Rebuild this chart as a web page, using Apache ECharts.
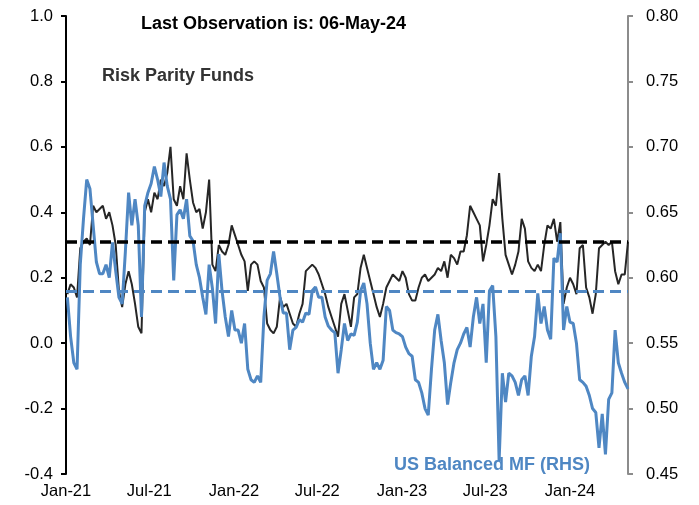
<!DOCTYPE html>
<html>
<head>
<meta charset="utf-8">
<script src="https://cdn.jsdelivr.net/npm/echarts@6/dist/echarts.min.js"></script>
<style>
  html, body { margin: 0; padding: 0; background: #fff; }
  #chart { width: 699px; height: 505px; }
</style>
</head>
<body>
<div id="chart"></div>
<script>
// weekly observations, first one on 4-Jan-21, last one on 6-May-24
var firstWeek = '2021-01-04';

var riskParity = [
    0.15, 0.18, 0.17, 0.14, 0.29, 0.31, 0.32, 0.30, 0.42, 0.40,
    0.41, 0.42, 0.38, 0.40, 0.36, 0.30, 0.16, 0.11, 0.18, 0.22,
    0.18, 0.12, 0.05, 0.03, 0.40, 0.44, 0.40, 0.46, 0.44, 0.50,
    0.48, 0.52, 0.60, 0.44, 0.42, 0.48, 0.44, 0.58, 0.50, 0.43,
    0.40, 0.41, 0.35, 0.40, 0.50, 0.24, 0.22, 0.30, 0.28, 0.27,
    0.30, 0.36, 0.33, 0.30, 0.27, 0.25, 0.16, 0.24, 0.25, 0.24,
    0.19, 0.17, 0.06, 0.04, 0.03, 0.05, 0.14, 0.11, 0.12, 0.09,
    0.06, 0.05, 0.09, 0.12, 0.22, 0.23, 0.24, 0.23, 0.21, 0.18,
    0.15, 0.11, 0.08, 0.05, 0.02, 0.12, 0.15, 0.10, 0.05, 0.14,
    0.15, 0.23, 0.27, 0.23, 0.19, 0.15, 0.11, 0.08, 0.12, 0.17,
    0.19, 0.21, 0.20, 0.19, 0.22, 0.20, 0.15, 0.13, 0.13, 0.17,
    0.20, 0.21, 0.19, 0.20, 0.21, 0.23, 0.22, 0.25, 0.20, 0.27,
    0.26, 0.24, 0.28, 0.28, 0.33, 0.42, 0.40, 0.38, 0.36, 0.25,
    0.30, 0.36, 0.44, 0.42, 0.52, 0.38, 0.27, 0.24, 0.21, 0.24,
    0.28, 0.38, 0.35, 0.25, 0.23, 0.22, 0.24, 0.22, 0.30, 0.36,
    0.35, 0.38, 0.31, 0.37, 0.12, 0.17, 0.20, 0.18, 0.15, 0.29,
    0.30, 0.17, 0.14, 0.09, 0.15, 0.29, 0.30, 0.31, 0.30, 0.31,
    0.22, 0.18, 0.21, 0.21, 0.31
];

var usBalanced = [
    0.585, 0.555, 0.535, 0.530, 0.610, 0.645, 0.675, 0.668, 0.640, 0.612,
    0.603, 0.603, 0.610, 0.600, 0.627, 0.605, 0.585, 0.580, 0.620, 0.665,
    0.640, 0.660, 0.640, 0.570, 0.655, 0.665, 0.672, 0.685, 0.675, 0.662,
    0.688, 0.670, 0.660, 0.598, 0.648, 0.652, 0.645, 0.660, 0.632, 0.628,
    0.610, 0.600, 0.585, 0.572, 0.610, 0.592, 0.565, 0.618, 0.590, 0.570,
    0.555, 0.575, 0.560, 0.560, 0.550, 0.565, 0.530, 0.522, 0.520, 0.525,
    0.520, 0.570, 0.598, 0.603, 0.620, 0.603, 0.585, 0.573, 0.573, 0.545,
    0.560, 0.562, 0.568, 0.566, 0.573, 0.572, 0.590, 0.593, 0.585, 0.585,
    0.570, 0.563, 0.560, 0.558, 0.527, 0.545, 0.565, 0.552, 0.557, 0.556,
    0.566, 0.590, 0.596, 0.580, 0.550, 0.530, 0.535, 0.530, 0.537, 0.578,
    0.575, 0.560, 0.558, 0.557, 0.555, 0.547, 0.542, 0.540, 0.522, 0.520,
    0.512, 0.500, 0.495, 0.530, 0.560, 0.572, 0.552, 0.535, 0.503, 0.520,
    0.535, 0.545, 0.550, 0.557, 0.562, 0.547, 0.570, 0.585, 0.565, 0.580,
    0.535, 0.590, 0.594, 0.555, 0.460, 0.527, 0.505, 0.527, 0.525, 0.520,
    0.510, 0.522, 0.525, 0.510, 0.540, 0.555, 0.588, 0.565, 0.578, 0.560,
    0.553, 0.615, 0.612, 0.634, 0.560, 0.578, 0.566, 0.565, 0.550, 0.522,
    0.520, 0.517, 0.510, 0.500, 0.497, 0.470, 0.496, 0.465, 0.507, 0.512,
    0.560, 0.535, 0.527, 0.520, 0.515
];

// long-run averages (dashed lines)
var riskParityAvg = 0.311;
var usBalancedAvg = 0.589;

var tickDates = ['2021-01-01', '2021-07-01', '2022-01-01', '2022-07-01', '2023-01-01', '2023-07-01', '2024-01-01'];
var tickLabels = ['Jan-21', 'Jul-21', 'Jan-22', 'Jul-22', 'Jan-23', 'Jul-23', 'Jan-24'];

function toTime(s) {
    var p = s.split('-');
    return Date.UTC(+p[0], +p[1] - 1, +p[2]);
}

var tickValues = tickDates.map(toTime);
var start = toTime(firstWeek);
var week = 7 * 24 * 3600 * 1000;

var rpData = [], balData = [];
for (var i = 0; i < riskParity.length; i++) {
    rpData.push([start + i * week, riskParity[i]]);
    balData.push([start + i * week, usBalanced[i]]);
}

var blue = '#4F87C3';
var font = 'Liberation Sans, Arial, sans-serif';

var chart = echarts.init(document.getElementById('chart'));

var option = {
    backgroundColor: '#fff',
    animation: false,
    textStyle: { fontFamily: font },
    title: [
        {
            text: 'Last Observation is: 06-May-24',
            left: 136, top: 10,
            textStyle: { fontSize: 18, fontWeight: 'bold', color: '#000', fontFamily: font }
        },
        {
            text: 'Risk Parity Funds',
            left: 97, top: 62,
            textStyle: { fontSize: 18, fontWeight: 'bold', color: '#333', fontFamily: font }
        },
        {
            text: 'US Balanced MF (RHS)',
            left: 389, top: 451,
            textStyle: { fontSize: 18, fontWeight: 'bold', color: blue, fontFamily: font }
        }
    ],
    grid: {
        left: 66,
        right: 71,
        top: 16,
        bottom: 31
    },
    xAxis: {
        type: 'value',
        min: toTime('2021-01-01'),
        max: toTime('2024-05-06'),
        axisLine: { show: false },
        axisTick: { show: false },
        splitLine: { show: false },
        axisLabel: {
            customValues: tickValues,
            formatter: function (v) {
                var k = tickValues.indexOf(v);
                return k >= 0 ? tickLabels[k] : '';
            },
            margin: 9,
            fontSize: 16.5,
            color: '#000',
            fontFamily: font
        }
    },
    yAxis: [
        {
            type: 'value',
            min: -0.4,
            max: 1.0,
            interval: 0.2,
            position: 'left',
            splitLine: { show: false },
            axisLine: { show: true, lineStyle: { color: '#000', width: 2 } },
            axisTick: { show: true, length: 5, lineStyle: { color: '#000', width: 2 } },
            axisLabel: {
                margin: 13,
                fontSize: 16.5,
                color: '#000',
                fontFamily: font,
                formatter: function (v) { return v.toFixed(1); }
            }
        },
        {
            type: 'value',
            min: 0.45,
            max: 0.80,
            interval: 0.05,
            position: 'right',
            splitLine: { show: false },
            axisLine: { show: true, lineStyle: { color: '#8c8c8c', width: 2 } },
            axisTick: { show: true, length: 5, lineStyle: { color: '#8c8c8c', width: 2 } },
            axisLabel: {
                margin: 18,
                fontSize: 16.5,
                color: '#000',
                fontFamily: font,
                formatter: function (v) { return v.toFixed(2); }
            }
        }
    ],
    series: [
        {
            name: 'Risk Parity Funds',
            type: 'line',
            yAxisIndex: 0,
            showSymbol: false,
            symbol: 'none',
            lineStyle: { color: '#262626', width: 2 },
            data: rpData,
            markLine: {
                silent: true,
                symbol: 'none',
                label: { show: false },
                lineStyle: { color: '#000', width: 3.5, type: [11, 6] },
                data: [{ yAxis: riskParityAvg }]
            }
        },
        {
            name: 'US Balanced MF (RHS)',
            type: 'line',
            yAxisIndex: 1,
            showSymbol: false,
            symbol: 'none',
            lineStyle: { color: blue, width: 3 },
            data: balData,
            markLine: {
                silent: true,
                symbol: 'none',
                label: { show: false },
                lineStyle: { color: blue, width: 3, type: [11, 6] },
                data: [{ yAxis: usBalancedAvg }]
            }
        }
    ]
};

chart.setOption(option);
</script>
</body>
</html>
